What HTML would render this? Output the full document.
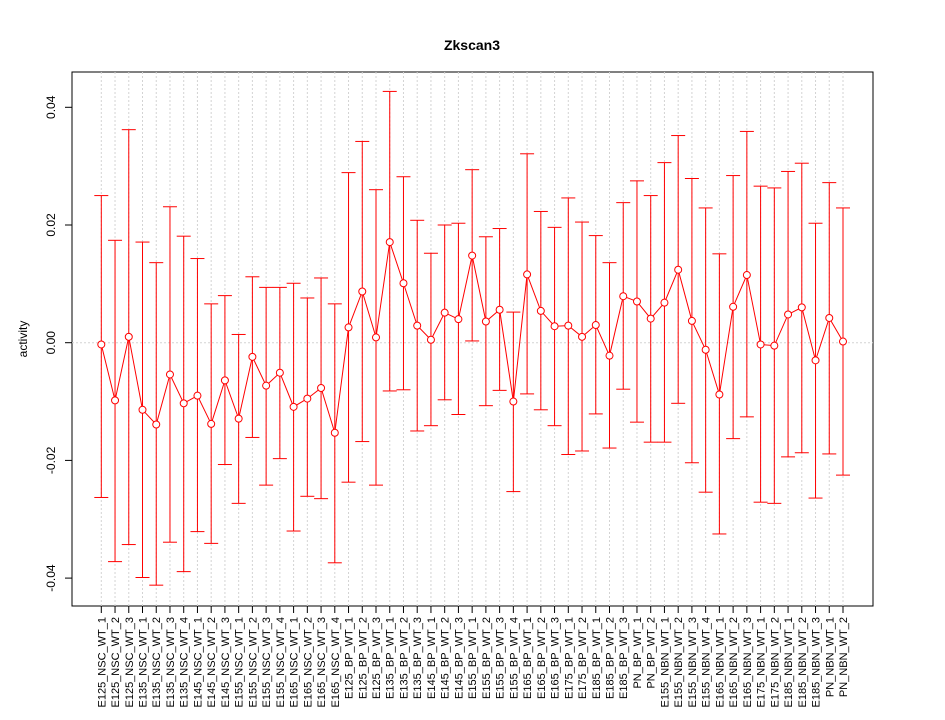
<!DOCTYPE html>
<html><head><meta charset="utf-8"><style>
body{margin:0;background:#fff;}
svg{display:block;font-family:"Liberation Sans",sans-serif;}
</style></head><body>
<svg id="chart" width="945" height="720">
<text x="472" y="50" text-anchor="middle" font-weight="bold" font-size="14">Zkscan3</text>
<text transform="translate(27,339) rotate(-90)" text-anchor="middle" font-size="12">activity</text>
<rect x="72" y="72" width="801" height="534" fill="none" stroke="#000"/>
<g id="grid"></g><g id="yaxis"></g><g id="xaxis"></g><g id="series"></g>
</svg>
<script>
const categories=["E125_NSC_WT_1","E125_NSC_WT_2","E125_NSC_WT_3","E135_NSC_WT_1","E135_NSC_WT_2","E135_NSC_WT_3","E135_NSC_WT_4","E145_NSC_WT_1","E145_NSC_WT_2","E145_NSC_WT_3","E155_NSC_WT_1","E155_NSC_WT_2","E155_NSC_WT_3","E155_NSC_WT_4","E165_NSC_WT_1","E165_NSC_WT_2","E165_NSC_WT_3","E165_NSC_WT_4","E125_BP_WT_1","E125_BP_WT_2","E125_BP_WT_3","E135_BP_WT_1","E135_BP_WT_2","E135_BP_WT_3","E145_BP_WT_1","E145_BP_WT_2","E145_BP_WT_3","E155_BP_WT_1","E155_BP_WT_2","E155_BP_WT_3","E155_BP_WT_4","E165_BP_WT_1","E165_BP_WT_2","E165_BP_WT_3","E175_BP_WT_1","E175_BP_WT_2","E185_BP_WT_1","E185_BP_WT_2","E185_BP_WT_3","PN_BP_WT_1","PN_BP_WT_2","E155_NBN_WT_1","E155_NBN_WT_2","E155_NBN_WT_3","E155_NBN_WT_4","E165_NBN_WT_1","E165_NBN_WT_2","E165_NBN_WT_3","E175_NBN_WT_1","E175_NBN_WT_2","E185_NBN_WT_1","E185_NBN_WT_2","E185_NBN_WT_3","PN_NBN_WT_1","PN_NBN_WT_2"];
const centers=[-0.0003,-0.0098,0.0010,-0.0114,-0.0139,-0.0054,-0.0103,-0.0090,-0.0138,-0.0064,-0.0129,-0.0024,-0.0073,-0.0051,-0.0109,-0.0095,-0.0077,-0.0153,0.0026,0.0087,0.0009,0.0171,0.0101,0.0029,0.0005,0.0051,0.0040,0.0148,0.0036,0.0056,-0.0100,0.0116,0.0054,0.0028,0.0029,0.0010,0.0030,-0.0022,0.0079,0.0070,0.0041,0.0068,0.0124,0.0037,-0.0012,-0.0088,0.0061,0.0115,-0.0003,-0.0005,0.0048,0.0060,-0.0030,0.0042,0.0002];
const uppers=[0.0250,0.0174,0.0362,0.0171,0.0136,0.0231,0.0181,0.0143,0.0066,0.0080,0.0014,0.0112,0.0094,0.0094,0.0101,0.0076,0.0110,0.0066,0.0289,0.0342,0.0260,0.0427,0.0282,0.0208,0.0152,0.0200,0.0203,0.0294,0.0180,0.0194,0.0052,0.0321,0.0223,0.0196,0.0246,0.0205,0.0182,0.0136,0.0238,0.0275,0.0250,0.0306,0.0352,0.0279,0.0229,0.0151,0.0284,0.0359,0.0266,0.0263,0.0291,0.0305,0.0203,0.0272,0.0229];
const lowers=[-0.0263,-0.0372,-0.0343,-0.0399,-0.0412,-0.0339,-0.0389,-0.0321,-0.0341,-0.0207,-0.0273,-0.0161,-0.0242,-0.0197,-0.0320,-0.0261,-0.0265,-0.0374,-0.0237,-0.0168,-0.0242,-0.0082,-0.0080,-0.0150,-0.0141,-0.0097,-0.0122,0.0003,-0.0107,-0.0081,-0.0253,-0.0087,-0.0114,-0.0141,-0.0190,-0.0184,-0.0121,-0.0179,-0.0079,-0.0135,-0.0169,-0.0169,-0.0103,-0.0204,-0.0254,-0.0325,-0.0163,-0.0126,-0.0271,-0.0273,-0.0194,-0.0187,-0.0264,-0.0189,-0.0225];
const yTicks=[-0.04,-0.02,0.00,0.02,0.04];
const yTickLabels=["-0.04","-0.02","0.00","0.02","0.04"];
const NS="http://www.w3.org/2000/svg";
function X(i){return 101.3+i*(843-101.3)/(categories.length-1);}
function Y(v){return 342.7-v*5885;}
function mk(parent,tag,attrs){const e=document.createElementNS(NS,tag);for(const k in attrs)e.setAttribute(k,attrs[k]);document.getElementById(parent).appendChild(e);return e;}
// grid
categories.forEach((c,i)=>{
 const g=mk('grid','line',{x1:X(i),x2:X(i),y1:72,y2:606,stroke:'#d3d3d3','stroke-dasharray':'2,2'});
 
 
});
const hz=mk('grid','line',{x1:72,x2:873,y1:Y(0),y2:Y(0),stroke:'#d3d3d3','stroke-dasharray':'2,2'});


// y axis
yTicks.forEach((t,i)=>{
 const l=mk('yaxis','line',{x1:65,x2:72,y1:Y(t),y2:Y(t),stroke:'#000'});
 
 
 const tx=mk('yaxis','text',{transform:`translate(55,${Y(t)}) rotate(-90)`,'text-anchor':'middle','font-size':'12'});
 tx.textContent=yTickLabels[i];
 
 
});
// x axis
categories.forEach((c,i)=>{
 const l=mk('xaxis','line',{x1:X(i),x2:X(i),y1:606,y2:613,stroke:'#000'});
 
 
 const tx=mk('xaxis','text',{transform:`translate(${X(i)+4},617) rotate(-90)`,'text-anchor':'end','font-size':'11'});
 tx.textContent=c;
 
 
});
// series
let pts=centers.map((v,i)=>X(i)+','+Y(v)).join(' ');
const pl=mk('series','polyline',{points:pts,fill:'none',stroke:'#ff0000','stroke-width':1});


categories.forEach((c,i)=>{
 const x=X(i);
 const eb=mk('series','line',{x1:x,x2:x,y1:Y(uppers[i]),y2:Y(lowers[i]),stroke:'#ff0000'});
 
 
 [uppers[i],lowers[i]].forEach(v=>{
  const cp=mk('series','line',{x1:x-7,x2:x+7,y1:Y(v),y2:Y(v),stroke:'#ff0000'});
  
  
 });
 const pt=mk('series','circle',{cx:x,cy:Y(centers[i]),r:3.5,fill:'#fff',stroke:'#ff0000'});
 
 
});
</script>
</body></html>
